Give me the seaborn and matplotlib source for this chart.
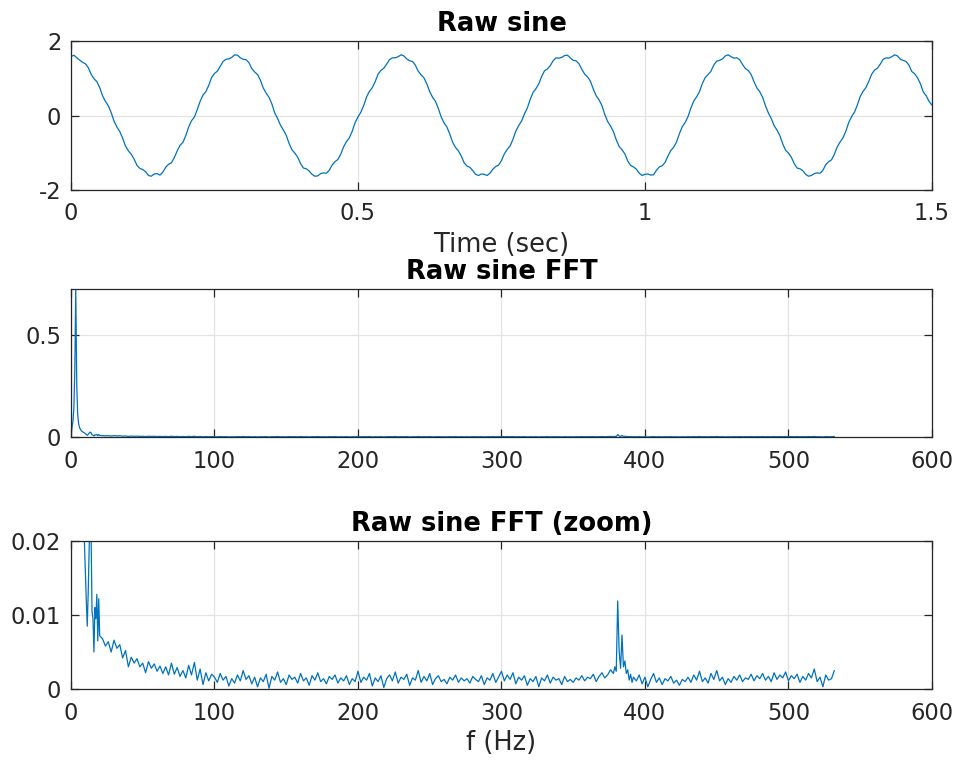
import numpy as np
import pandas as pd
import matplotlib
matplotlib.use("Agg")
import matplotlib.pyplot as plt
import seaborn as sns

# ---------------------------------------------------------------------
# data
# ---------------------------------------------------------------------
# raw sine, samples at 0, 10, 20 ... ms
sine_vals = [
    1.58, 1.55, 1.43, 1.29, 0.99, 0.75, 0.38, 0.08, -0.31, -0.61,
    -0.95, -1.17, -1.42, -1.51, -1.63, -1.56, -1.52, -1.31, -1.13, -0.80,
    -0.54, -0.14, 0.16, 0.55, 0.81, 1.13, 1.32, 1.51, 1.56, 1.62,
    1.51, 1.42, 1.17, 0.95, 0.60, 0.31, -0.08, -0.39, -0.75, -1.01,
    -1.29, -1.43, -1.58, -1.62, -1.54, -1.47, -1.24, -1.04, -0.70, -0.42,
    -0.04, 0.27, 0.65, 0.91, 1.21, 1.38, 1.55, 1.58, 1.60, 1.47,
    1.35, 1.09, 0.85, 0.49, 0.19, -0.20, -0.50, -0.86, -1.09, -1.36,
    -1.48, -1.61, -1.58, -1.55, -1.37, -1.21, -0.91, -0.64, -0.27, 0.04,
    0.43, 0.72, 1.05, 1.25, 1.47, 1.54, 1.61, 1.55, 1.47, 1.24,
    1.04, 0.71, 0.42, 0.03, -0.28, -0.65, -0.92, -1.22, -1.38, -1.55,
    -1.58, -1.60, -1.47, -1.35, -1.09, -0.85, -0.49, -0.19, 0.20, 0.50,
    0.86, 1.10, 1.36, 1.48, 1.60, 1.58, 1.55, 1.37, 1.21, 0.91,
    0.64, 0.26, -0.08, -0.39, -0.76, -1.01, -1.29, -1.43, -1.58, -1.61,
    -1.54, -1.47, -1.24, -1.04, -0.71, -0.42, -0.03, 0.28, 0.65, 0.92,
    1.22, 1.38, 1.55, 1.58, 1.60, 1.48, 1.35, 1.12, 0.85, 0.53,
    0.28,
]
sine_time = np.linspace(0, 1.5, len(sine_vals))

# raw sine, samples at 5, 15, 25 ... ms
sine_vals_half = [
    1.62, 1.49, 1.39, 1.11, 0.91, 0.53, 0.26, -0.15, -0.43, -0.82,
    -1.04, -1.34, -1.45, -1.61, -1.57, -1.60, -1.39, -1.27, -0.95, -0.72,
    -0.31, -0.04, 0.38, 0.64, 1.02, 1.19, 1.45, 1.52, 1.63, 1.55,
    1.50, 1.26, 1.10, 0.74, 0.49, 0.07, -0.26, -0.53, -0.92, -1.12,
    -1.41, -1.49, -1.63, -1.56, -1.55, -1.33, -1.18, -0.84, -0.60, -0.19,
    0.09, 0.50, 0.75, 1.11, 1.27, 1.50, 1.55, 1.63, 1.52, 1.45,
    1.19, 1.01, 0.64, 0.38, -0.04, -0.31, -0.72, -0.95, -1.27, -1.39,
    -1.58, -1.57, -1.61, -1.44, -1.33, -1.03, -0.82, -0.42, -0.15, 0.20,
    0.62, 0.85, 1.20, 1.34, 1.55, 1.56, 1.62, 1.48, 1.39, 1.11,
    0.92, 0.53, 0.27, -0.16, -0.43, -0.83, -1.03, -1.34, -1.44, -1.61,
    -1.57, -1.59, -1.38, -1.26, -0.94, -0.71, -0.30, -0.03, 0.39, 0.64,
    1.02, 1.19, 1.46, 1.52, 1.63, 1.54, 1.50, 1.26, 1.10, 0.74,
    0.49, 0.07, -0.27, -0.54, -0.93, -1.12, -1.41, -1.48, -1.63, -1.56,
    -1.55, -1.32, -1.19, -0.84, -0.60, -0.19, 0.09, 0.51, 0.75, 1.11,
    1.27, 1.51, 1.54, 1.63, 1.51, 1.45, 1.18, 1.01, 0.63, 0.38,
]
sine_time_half = np.linspace(0.005, 1.495, len(sine_vals_half))

# FFT magnitude, 0-20 Hz (fine resolution around the main peak)
fft_low = [
    0.003, 0.045, 0.075, 0.14, 0.33, 0.725, 0.26, 0.11, 0.065, 0.045,
    0.036, 0.030, 0.026, 0.023, 0.020, 0.016, 0.012, 0.0085, 0.013, 0.019,
    0.024, 0.021, 0.0105, 0.0095, 0.005, 0.011, 0.0095, 0.0128, 0.0065, 0.0122,
    0.0072,
]
freq_low = np.linspace(0, 20, len(fft_low))

# FFT magnitude, 22-378 Hz
fft_mid = [
    0.0068, 0.0058, 0.0064, 0.0050, 0.0066, 0.0055, 0.0060,
    0.0042, 0.0052, 0.0030, 0.0043, 0.0035, 0.0041, 0.0030,
    0.0035, 0.0022, 0.0037, 0.0028, 0.0034, 0.0024, 0.0031,
    0.0021, 0.0030, 0.0019, 0.0035, 0.0020, 0.0029, 0.0017,
    0.0025, 0.0015, 0.0032, 0.0019, 0.0036, 0.0012, 0.0027,
    0.0006, 0.0022, 0.0011, 0.0020,
    0.0016, 0.0009, 0.0021, 0.0012, 0.0017, 0.0004, 0.0014, 0.0008, 0.0019, 0.0011,
    0.0025, 0.0013, 0.0018, 0.0007, 0.0016, 0.0003, 0.0015, 0.0010, 0.0020, 0.0001,
    0.0017, 0.0012, 0.0023, 0.0009, 0.0014, 0.0006, 0.0019, 0.0013, 0.0016, 0.0008,
    0.0021, 0.0011, 0.0015, 0.0005, 0.0018, 0.0012, 0.0022, 0.0010, 0.0014, 0.0007,
    0.0017, 0.0013, 0.0019, 0.0008, 0.0015, 0.0011, 0.0018, 0.0006, 0.0014, 0.0010,
    0.0024, 0.0009, 0.0016, 0.0012, 0.0021, 0.0004, 0.0015, 0.0010, 0.0018, 0.0002,
    0.0014, 0.0019, 0.0011, 0.0023, 0.0008, 0.0016, 0.0013, 0.0020, 0.0005, 0.0015,
    0.0012, 0.0025, 0.0009, 0.0017, 0.0011, 0.0021, 0.0006, 0.0014, 0.0018, 0.0010,
    0.0013, 0.0007, 0.0016, 0.0012, 0.0019, 0.0009, 0.0015, 0.0011, 0.0014, 0.0008,
    0.0017, 0.0013, 0.0010, 0.0018, 0.0006, 0.0015, 0.0012, 0.0021, 0.0009, 0.0016,
    0.0024, 0.0011, 0.0019, 0.0013, 0.0022, 0.0007, 0.0016, 0.0012, 0.0018, 0.0005,
    0.0014, 0.0010, 0.0017, 0.0003, 0.0015, 0.0011, 0.0019, 0.0008, 0.0016, 0.0012,
    0.0014, 0.0006, 0.0017, 0.0010, 0.0013, 0.0009, 0.0015, 0.0012, 0.0018, 0.0011,
    0.0016, 0.0014, 0.0020, 0.0010, 0.0017, 0.0022, 0.0015, 0.0019, 0.0026, 0.0021,
]
freq_mid = np.arange(22, 379, 2)

# FFT magnitude, 379-392 Hz (interference spike)
fft_spike = [
    0.0030, 0.0024, 0.0119, 0.0052, 0.0028, 0.0073, 0.0030,
    0.0038, 0.0021, 0.0026, 0.0012, 0.0020, 0.0009, 0.0016,
]
freq_spike = np.arange(379, 393)

# FFT magnitude, 394-532 Hz
fft_high = [
    0.0011, 0.0019, 0.0007, 0.0016, 0.0003, 0.0013, 0.0021, 0.0009, 0.0015, 0.0006,
    0.0014, 0.0011, 0.0017, 0.0008, 0.0012, 0.0005, 0.0013, 0.0010, 0.0016, 0.0009,
    0.0019, 0.0012, 0.0024, 0.0010, 0.0015, 0.0008, 0.0021, 0.0013, 0.0025, 0.0011,
    0.0016, 0.0006, 0.0014, 0.0009, 0.0017, 0.0012, 0.0019, 0.0010, 0.0015, 0.0013,
    0.0020, 0.0011, 0.0018, 0.0014, 0.0021, 0.0012, 0.0017, 0.0010, 0.0022, 0.0013,
    0.0019, 0.0015, 0.0023, 0.0011, 0.0018, 0.0014, 0.0020, 0.0009, 0.0017, 0.0012,
    0.0021, 0.0015, 0.0027, 0.0010, 0.0016, 0.0003, 0.0019, 0.0012, 0.0014, 0.0025,
]
freq_high = np.arange(394, 533, 2)

fft_df = pd.DataFrame({
    "f": np.concatenate([freq_low, freq_mid, freq_spike, freq_high]),
    "mag": fft_low + fft_mid + fft_spike + fft_high,
})
sine_df = pd.DataFrame({
    "t": np.concatenate([sine_time, sine_time_half]),
    "y": sine_vals + sine_vals_half,
}).sort_values("t")

# ---------------------------------------------------------------------
# style (MATLAB-like)
# ---------------------------------------------------------------------
sns.set_style("white")
plt.rcParams["font.family"] = ["DejaVu Sans"]
plt.rcParams["axes.unicode_minus"] = False

LINE = "#0072BD"
DARK = "#262626"
GRID = "#e3e3e3"

fig = plt.figure(figsize=(9.58, 7.6), dpi=100)
ax1 = fig.add_axes([0.0741, 0.750, 0.8987, 0.196])
ax2 = fig.add_axes([0.0741, 0.425, 0.8987, 0.1947])
ax3 = fig.add_axes([0.0741, 0.0934, 0.8987, 0.1947])


def matlab_axes(ax):
    ax.grid(True, color=GRID, linewidth=0.9)
    ax.set_axisbelow(True)
    for s in ax.spines.values():
        s.set_visible(True)
        s.set_color(DARK)
        s.set_linewidth(0.9)
    ax.tick_params(direction="in", length=6, width=0.9, color=DARK,
                   labelcolor=DARK, labelsize=16.3, top=True, right=True,
                   bottom=True, left=True)
    ax.tick_params(axis="x", pad=9)
    ax.tick_params(axis="y", pad=7)


sns.lineplot(data=sine_df, x="t", y="y", ax=ax1, color=LINE,
             linewidth=0.9, estimator=None, sort=False)
ax1.set_xlim(0, 1.5)
ax1.set_ylim(-2, 2)
ax1.set_xticks([0, 0.5, 1, 1.5])
ax1.set_xticklabels(["0", "0.5", "1", "1.5"])
ax1.set_yticks([-2, 0, 2])
ax1.set_xlabel("Time (sec)", fontsize=18.5, color=DARK, labelpad=4.5)
ax1.set_ylabel("")
ax1.set_title("Raw sine", fontsize=18.5, fontweight="bold", color="black", pad=7)
matlab_axes(ax1)

for ax in (ax2, ax3):
    sns.lineplot(data=fft_df, x="f", y="mag", ax=ax, color=LINE,
                 linewidth=0.9, estimator=None, sort=False)
    ax.set_xlim(0, 600)
    ax.set_xticks([0, 100, 200, 300, 400, 500, 600])
    ax.set_ylabel("")
    matlab_axes(ax)

ax2.set_ylim(0, 0.725)
ax2.set_yticks([0, 0.5])
ax2.set_yticklabels(["0", "0.5"])
ax2.set_xlabel("")
ax2.set_title("Raw sine FFT", fontsize=18.5, fontweight="bold", color="black", pad=7)

ax3.set_ylim(0, 0.02)
ax3.set_yticks([0, 0.01, 0.02])
ax3.set_yticklabels(["0", "0.01", "0.02"])
ax3.set_xlabel("f (Hz)", fontsize=18.5, color=DARK, labelpad=4)
ax3.set_title("Raw sine FFT (zoom)", fontsize=18.5, fontweight="bold", color="black", pad=7)

fig.savefig("out.png", dpi=100, facecolor="white")
